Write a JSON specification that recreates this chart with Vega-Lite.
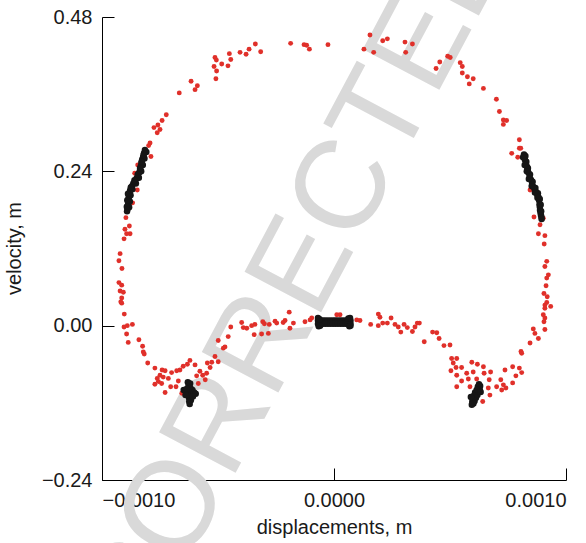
{
  "$schema": "https://vega.github.io/schema/vega-lite/v6.json",
  "width": 464,
  "height": 463,
  "autosize": "none",
  "padding": {"left": 102, "top": 17, "right": 20, "bottom": 63},
  "background": "white",
  "config": {
    "view": {"stroke": null},
    "font": "Liberation Sans",
    "axis": {
      "grid": false,
      "domainColor": "#000000",
      "domainWidth": 1,
      "tickColor": "#000000",
      "tickWidth": 1,
      "tickSize": -12,
      "labelFont": "Liberation Sans",
      "labelFontSize": 20,
      "labelColor": "#1a1a1a",
      "labelPadding": 22,
      "titleFont": "Liberation Sans",
      "titleFontSize": 20,
      "titleFontWeight": "normal",
      "titleColor": "#1a1a1a"
    }
  },
  "datasets": {
    "trajectory": [
      {"x":-0.000187,"y":0.439},{"x":-0.000129,"y":0.437},{"x":-0.000118,"y":0.436},{"x":-0.000106,"y":0.430},{"x":-0.000026,"y":0.437},{"x":-0.000339,"y":0.438},{"x":-0.000366,"y":0.430},{"x":-0.000379,"y":0.422},{"x":-0.000316,"y":0.426},{"x":-0.000405,"y":0.425},{"x":-0.000451,"y":0.423},{"x":-0.000445,"y":0.414},{"x":-0.000457,"y":0.404},{"x":-0.000484,"y":0.407},{"x":-0.000513,"y":0.417},{"x":-0.000507,"y":0.413},{"x":-0.000517,"y":0.403},{"x":-0.000506,"y":0.396},{"x":-0.000509,"y":0.384},{"x":-0.000616,"y":0.380},{"x":-0.000589,"y":0.373},{"x":-0.000599,"y":0.367},{"x":-0.000667,"y":0.362},{"x":-0.000723,"y":0.328},{"x":-0.000741,"y":0.319},{"x":-0.000759,"y":0.312},{"x":-0.000776,"y":0.308},{"x":-0.000750,"y":0.305},{"x":-0.000762,"y":0.300},{"x":-0.000793,"y":0.284},{"x":-0.000799,"y":0.280},{"x":-0.000789,"y":0.263},{"x":-0.000846,"y":0.250},{"x":-0.000859,"y":0.237},
      {"x":0.000155,"y":0.452},{"x":0.000129,"y":0.430},{"x":0.000171,"y":0.425},{"x":0.000210,"y":0.443},{"x":0.000230,"y":0.446},{"x":0.000306,"y":0.441},{"x":0.000338,"y":0.438},{"x":0.000309,"y":0.425},{"x":0.000456,"y":0.410},{"x":0.000440,"y":0.400},{"x":0.000490,"y":0.419},{"x":0.000501,"y":0.417},{"x":0.000544,"y":0.409},{"x":0.000553,"y":0.403},{"x":0.000553,"y":0.393},{"x":0.000575,"y":0.387},{"x":0.000600,"y":0.384},{"x":0.000583,"y":0.376},{"x":0.000644,"y":0.369},{"x":0.000700,"y":0.352},{"x":0.000713,"y":0.333},{"x":0.000730,"y":0.320},{"x":0.000744,"y":0.319},{"x":0.000730,"y":0.313},{"x":0.000799,"y":0.289},{"x":0.000799,"y":0.276},{"x":0.000805,"y":0.276},{"x":0.000766,"y":0.268},{"x":0.000792,"y":0.262},
      {"x":0.000831,"y":0.250},{"x":0.000845,"y":0.211},{"x":0.000862,"y":0.169},{"x":0.000902,"y":0.167},{"x":0.000888,"y":0.157},{"x":0.000881,"y":0.143},{"x":0.000909,"y":0.140},{"x":0.000906,"y":0.127},{"x":0.000917,"y":0.100},{"x":0.000909,"y":0.092},{"x":0.000924,"y":0.079},{"x":0.000917,"y":0.074},{"x":0.000914,"y":0.062},{"x":0.000905,"y":0.050},{"x":0.000919,"y":0.045},{"x":0.000909,"y":0.032},{"x":0.000934,"y":0.030},{"x":0.000917,"y":0.036},{"x":0.000909,"y":0.027},{"x":0.000902,"y":0.017},{"x":0.000909,"y":0.012},{"x":0.000905,"y":0.006},{"x":0.000909,"y":-0.006},{"x":0.000859,"y":-0.005},{"x":0.000866,"y":-0.012},{"x":0.000881,"y":-0.020},{"x":0.000845,"y":-0.027},{"x":0.000806,"y":-0.040},{"x":0.000809,"y":-0.043},
      {"x":0.000799,"y":-0.066},{"x":0.000809,"y":-0.073},{"x":0.000784,"y":-0.078},{"x":0.000770,"y":-0.064},{"x":0.000770,"y":-0.089},{"x":0.000737,"y":-0.069},{"x":0.000741,"y":-0.097},{"x":0.000730,"y":-0.092},{"x":0.000723,"y":-0.100},{"x":0.000719,"y":-0.084},{"x":0.000701,"y":-0.095},{"x":0.000672,"y":-0.108},{"x":0.000665,"y":-0.097},{"x":0.000669,"y":-0.084},{"x":0.000675,"y":-0.072},{"x":0.000647,"y":-0.074},{"x":0.000644,"y":-0.064},{"x":0.000618,"y":-0.060},{"x":0.000594,"y":-0.057},{"x":0.000600,"y":-0.072},{"x":0.000572,"y":-0.074},{"x":0.000579,"y":-0.083},{"x":0.000615,"y":-0.083},{"x":0.000586,"y":-0.095},{"x":0.000641,"y":-0.118},{"x":0.000550,"y":-0.086},{"x":0.000529,"y":-0.095},{"x":0.000529,"y":-0.077},{"x":0.000550,"y":-0.065},{"x":0.000526,"y":-0.065},{"x":0.000504,"y":-0.070},{"x":0.000514,"y":-0.058},{"x":0.000529,"y":-0.051},{"x":0.000507,"y":-0.051},{"x":0.000500,"y":-0.030},{"x":0.000474,"y":-0.031},{"x":0.000453,"y":-0.020},{"x":0.000443,"y":-0.011},{"x":0.000425,"y":-0.010},{"x":0.000389,"y":-0.025},
      {"x":0.000368,"y":0.004},{"x":0.000359,"y":0.004},{"x":0.000349,"y":-0.002},{"x":0.000338,"y":-0.009},{"x":0.000316,"y":-0.003},{"x":0.000302,"y":0.002},{"x":0.000288,"y":-0.010},{"x":0.000277,"y":-0.002},{"x":0.000263,"y":0.002},{"x":0.000246,"y":0.012},{"x":0.000230,"y":0.004},{"x":0.000210,"y":0.004},{"x":0.000191,"y":0.000},{"x":0.000198,"y":0.013},{"x":0.000191,"y":0.018},{"x":0.000158,"y":0.002},{"x":0.000112,"y":0.008},{"x":0.000098,"y":0.009},{"x":0.000026,"y":0.017},{"x":0.000012,"y":0.017},
      {"x":-0.000848,"y":0.211},{"x":-0.000868,"y":0.191},{"x":-0.000897,"y":0.168},{"x":-0.000882,"y":0.155},{"x":-0.000901,"y":0.150},{"x":-0.000879,"y":0.143},{"x":-0.000894,"y":0.143},{"x":-0.000905,"y":0.135},{"x":-0.000922,"y":0.112},{"x":-0.000927,"y":0.101},{"x":-0.000914,"y":0.089},{"x":-0.000927,"y":0.067},{"x":-0.000915,"y":0.063},{"x":-0.000922,"y":0.054},{"x":-0.000908,"y":0.052},{"x":-0.000915,"y":0.043},{"x":-0.000919,"y":0.037},{"x":-0.000915,"y":0.035},
      {"x":-0.000904,"y":0.018},{"x":-0.000905,"y":-0.002},{"x":-0.000891,"y":0.000},{"x":-0.000869,"y":0.002},{"x":-0.000894,"y":-0.013},{"x":-0.000887,"y":-0.026},{"x":-0.000841,"y":-0.022},{"x":-0.000825,"y":-0.032},{"x":-0.000822,"y":-0.041},{"x":-0.000818,"y":-0.044},{"x":-0.000803,"y":-0.058},{"x":-0.000772,"y":-0.066},{"x":-0.000741,"y":-0.069},{"x":-0.000728,"y":-0.070},{"x":-0.000700,"y":-0.073},{"x":-0.000678,"y":-0.070},{"x":-0.000664,"y":-0.069},{"x":-0.000621,"y":-0.054},{"x":-0.000599,"y":-0.061},{"x":-0.000650,"y":-0.063},{"x":-0.000632,"y":-0.060},{"x":-0.000750,"y":-0.077},{"x":-0.000762,"y":-0.082},{"x":-0.000736,"y":-0.080},{"x":-0.000714,"y":-0.082},{"x":-0.000757,"y":-0.087},{"x":-0.000743,"y":-0.090},{"x":-0.000772,"y":-0.091},{"x":-0.000704,"y":-0.095},{"x":-0.000671,"y":-0.086},{"x":-0.000681,"y":-0.095},{"x":-0.000728,"y":-0.104},{"x":-0.000656,"y":-0.105},{"x":-0.000578,"y":-0.071},{"x":-0.000592,"y":-0.078},{"x":-0.000566,"y":-0.077},{"x":-0.000555,"y":-0.084},{"x":-0.000585,"y":-0.090},{"x":-0.000549,"y":-0.074},{"x":-0.000534,"y":-0.065},{"x":-0.000546,"y":-0.058},{"x":-0.000527,"y":-0.057},{"x":-0.000513,"y":-0.048},{"x":-0.000499,"y":-0.056},{"x":-0.000477,"y":-0.035},{"x":-0.000470,"y":-0.033},{"x":-0.000499,"y":-0.023},{"x":-0.000456,"y":-0.017},{"x":-0.000445,"y":-0.002},
      {"x":-0.000398,"y":0.005},{"x":-0.000391,"y":-0.003},{"x":-0.000376,"y":-0.004},{"x":-0.000355,"y":0.000},{"x":-0.000341,"y":0.002},{"x":-0.000344,"y":-0.014},{"x":-0.000312,"y":-0.013},{"x":-0.000307,"y":0.006},{"x":-0.000300,"y":0.003},{"x":-0.000279,"y":0.002},{"x":-0.000283,"y":-0.012},{"x":-0.000254,"y":0.007},{"x":-0.000247,"y":0.004},{"x":-0.000219,"y":0.005},{"x":-0.000211,"y":0.008},{"x":-0.000193,"y":0.021},{"x":-0.000175,"y":0.004},{"x":-0.000190,"y":-0.004},{"x":-0.000125,"y":0.006},{"x":-0.000103,"y":0.009},{"x":-0.000096,"y":0.012}
    ],
    "sampled": [
      {"x":-0.000815,"y":0.273},{"x":-0.000819,"y":0.268},{"x":-0.000823,"y":0.262},{"x":-0.000827,"y":0.258},{"x":-0.000830,"y":0.253},{"x":-0.000833,"y":0.248},{"x":-0.000836,"y":0.242},{"x":-0.000840,"y":0.238},{"x":-0.000845,"y":0.233},{"x":-0.000851,"y":0.229},{"x":-0.000858,"y":0.225},{"x":-0.000865,"y":0.221},{"x":-0.000871,"y":0.217},{"x":-0.000875,"y":0.213},{"x":-0.000879,"y":0.210},{"x":-0.000882,"y":0.206},{"x":-0.000884,"y":0.202},{"x":-0.000885,"y":0.198},{"x":-0.000886,"y":0.194},{"x":-0.000887,"y":0.190},{"x":-0.000888,"y":0.186},{"x":-0.000890,"y":0.182},{"x":-0.000892,"y":0.178},
      {"x":-0.000809,"y":0.270},{"x":-0.000817,"y":0.260},{"x":-0.000824,"y":0.250},{"x":-0.000831,"y":0.240},{"x":-0.000841,"y":0.230},{"x":-0.000854,"y":0.221},{"x":-0.000869,"y":0.212},{"x":-0.000877,"y":0.203},{"x":-0.000880,"y":0.193},{"x":-0.000883,"y":0.184},
      {"x":-0.000821,"y":0.265},{"x":-0.000829,"y":0.255},{"x":-0.000836,"y":0.245},{"x":-0.000846,"y":0.235},{"x":-0.000860,"y":0.226},{"x":-0.000876,"y":0.215},{"x":-0.000888,"y":0.205},{"x":-0.000891,"y":0.195},{"x":-0.000893,"y":0.185},
      {"x":0.000819,"y":0.266},{"x":0.000821,"y":0.262},{"x":0.000823,"y":0.258},{"x":0.000827,"y":0.252},{"x":0.000832,"y":0.247},{"x":0.000835,"y":0.243},{"x":0.000838,"y":0.238},{"x":0.000843,"y":0.233},{"x":0.000849,"y":0.227},{"x":0.000854,"y":0.222},{"x":0.000859,"y":0.216},{"x":0.000865,"y":0.212},{"x":0.000871,"y":0.208},{"x":0.000876,"y":0.204},{"x":0.000881,"y":0.200},{"x":0.000884,"y":0.195},{"x":0.000886,"y":0.189},{"x":0.000887,"y":0.185},{"x":0.000888,"y":0.180},{"x":0.000890,"y":0.176},{"x":0.000892,"y":0.172},{"x":0.000894,"y":0.169},{"x":0.000895,"y":0.166},
      {"x":0.000825,"y":0.264},{"x":0.000829,"y":0.255},{"x":0.000836,"y":0.245},{"x":0.000845,"y":0.235},{"x":0.000856,"y":0.224},{"x":0.000868,"y":0.214},{"x":0.000879,"y":0.206},{"x":0.000887,"y":0.197},{"x":0.000891,"y":0.188},{"x":0.000893,"y":0.178},
      {"x":0.000815,"y":0.262},{"x":0.000822,"y":0.250},{"x":0.000831,"y":0.240},{"x":0.000840,"y":0.228},{"x":0.000852,"y":0.217},{"x":0.000866,"y":0.207},{"x":0.000877,"y":0.199},
      {"x":-0.000069,"y":0.008},{"x":-0.000058,"y":0.008},{"x":-0.000047,"y":0.008},{"x":-0.000037,"y":0.008},{"x":-0.000026,"y":0.008},{"x":-0.000015,"y":0.008},{"x":-0.000004,"y":0.008},{"x":0.000006,"y":0.008},{"x":0.000017,"y":0.008},{"x":0.000028,"y":0.008},{"x":0.000039,"y":0.008},{"x":0.000050,"y":0.008},{"x":0.000060,"y":0.008},{"x":0.000071,"y":0.008},
      {"x":-0.000069,"y":0.003},{"x":-0.000058,"y":0.003},{"x":-0.000047,"y":0.003},{"x":-0.000037,"y":0.003},{"x":-0.000026,"y":0.003},{"x":-0.000015,"y":0.003},{"x":-0.000004,"y":0.003},{"x":0.000006,"y":0.003},{"x":0.000017,"y":0.003},{"x":0.000028,"y":0.003},{"x":0.000039,"y":0.003},{"x":0.000050,"y":0.003},{"x":0.000060,"y":0.003},{"x":0.000071,"y":0.003},
      {"x":-0.000069,"y":0.012},{"x":-0.000066,"y":-0.001},{"x":-0.000062,"y":0.010},{"x":-0.000060,"y":0.000},{"x":0.000062,"y":0.011},{"x":0.000066,"y":-0.001},{"x":0.000069,"y":0.012},{"x":0.000071,"y":0.000},
      {"x":-0.000630,"y":-0.088},{"x":-0.000627,"y":-0.094},{"x":-0.000627,"y":-0.100},{"x":-0.000627,"y":-0.106},{"x":-0.000625,"y":-0.112},{"x":-0.000624,"y":-0.118},{"x":-0.000622,"y":-0.122},{"x":-0.000620,"y":-0.090},{"x":-0.000619,"y":-0.097},{"x":-0.000620,"y":-0.104},{"x":-0.000618,"y":-0.110},{"x":-0.000617,"y":-0.116},
      {"x":-0.000648,"y":-0.100},{"x":-0.000640,"y":-0.102},{"x":-0.000634,"y":-0.098},{"x":-0.000610,"y":-0.100},{"x":-0.000603,"y":-0.104},{"x":-0.000596,"y":-0.106},{"x":-0.000640,"y":-0.108},{"x":-0.000608,"y":-0.110},
      {"x":0.000625,"y":-0.091},{"x":0.000630,"y":-0.094},{"x":0.000620,"y":-0.095},{"x":0.000628,"y":-0.099},{"x":0.000615,"y":-0.100},{"x":0.000622,"y":-0.103},{"x":0.000608,"y":-0.104},{"x":0.000618,"y":-0.108},{"x":0.000603,"y":-0.109},{"x":0.000612,"y":-0.112},{"x":0.000600,"y":-0.114},{"x":0.000606,"y":-0.117},{"x":0.000596,"y":-0.118},{"x":0.000601,"y":-0.121},{"x":0.000594,"y":-0.123},{"x":0.000632,"y":-0.103},{"x":0.000590,"y":-0.111}
    ],
    "watermark": [
      {"label": "UNCORRECTED PROOF", "x": 0.000140, "y": 0.2795}
    ]
  },
  "layer": [
    {
      "data": {"name": "watermark"},
      "mark": {"type": "text", "angle": -62, "fontSize": 126, "font": "Liberation Sans", "color": "#d9d9d9", "align": "center", "baseline": "middle"},
      "encoding": {
        "x": {"field": "x", "type": "quantitative", "scale": {"domain": [-0.001, 0.001], "nice": false, "zero": false},
              "axis": {"values": [-0.001, 0, 0.001], "format": ".4f", "title": "displacements, m", "titleY": 53, "titleBaseline": "alphabetic"}},
        "y": {"field": "y", "type": "quantitative", "scale": {"domain": [-0.24, 0.48], "nice": false, "zero": false},
              "axis": {"values": [-0.24, 0, 0.24, 0.48], "format": ".2f", "title": "velocity, m", "titleX": -82, "titleY": 231, "titleAngle": -90, "titleAlign": "center", "titleBaseline": "alphabetic"}},
        "text": {"field": "label", "type": "nominal"}
      }
    },
    {
      "data": {"name": "trajectory"},
      "mark": {"type": "circle", "size": 24, "color": "#e0302a", "opacity": 1},
      "encoding": {
        "x": {"field": "x", "type": "quantitative"},
        "y": {"field": "y", "type": "quantitative"}
      }
    },
    {
      "data": {"name": "sampled"},
      "mark": {"type": "circle", "size": 42, "color": "#161616", "opacity": 1},
      "encoding": {
        "x": {"field": "x", "type": "quantitative"},
        "y": {"field": "y", "type": "quantitative"}
      }
    }
  ]
}
